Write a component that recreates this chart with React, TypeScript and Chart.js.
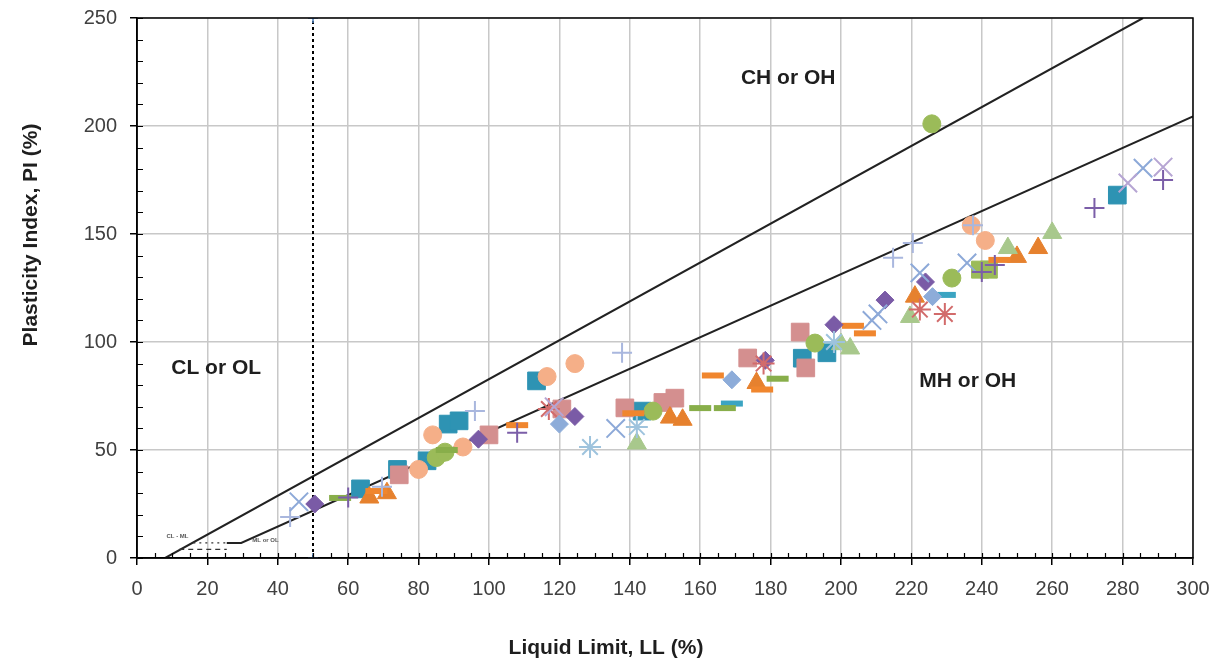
import React, { useEffect, useRef } from 'react';
import { Chart, registerables } from 'chart.js';

Chart.register(...registerables);

// ---- Axis ranges and ticks ----
const llRange = [0, 300];
const piRange = [0, 250];
const llTickStep = 20;
const piTickStep = 50;

// ---- Classification lines (LL, PI vertices) ----
const uLineLL = [8, 285.8];
const uLinePI = [0, 250];
const aLineLL = [25.5, 29.6, 300];
const aLinePI = [7, 7, 204.4];
const dividerLL = [50, 50];
const dividerPI = [0, 250];
const clmlTopLL = [16, 25.5];
const clmlTopPI = [7, 7];
const clmlBottomLL = [12, 25.5];
const clmlBottomPI = [4, 4];

// ---- Zone labels ----
const zoneLabels = ['CH or OH', 'CL or OL', 'MH or OH'];
const zoneLabelLL = [185, 22.5, 236];
const zoneLabelPI = [222, 88, 82];
const smallZoneLabels = ['CL - ML', 'ML or OL'];
const smallZoneLL = [11.5, 36.5];
const smallZonePI = [10, 8];

// ---- Sample series: liquid limit (LL) and plasticity index (PI) ----
const tealSquareLL = [63.5, 74, 82.4, 88.4, 91.5, 113.5, 143.5, 189, 196, 278.5];
const tealSquarePI = [32, 41, 45, 62, 63.5, 82, 68, 92.5, 95, 168];

const roseSquareLL = [74.5, 100, 120.7, 138.6, 149.4, 152.8, 173.5, 188.4, 190];
const roseSquarePI = [38.5, 57, 69, 69.5, 72, 74, 92.6, 104.6, 88];

const peachCircleLL = [80, 84, 92.6, 116.5, 124.4, 237, 241];
const peachCirclePI = [41, 57, 51.4, 84, 90, 154, 147];

const greenCircleLL = [85, 87.5, 146.6, 192.6, 225.8, 231.5];
const greenCirclePI = [46.5, 49, 68, 99.5, 201, 129.6];

const greenSquareLL = [239.5, 242];
const greenSquarePI = [133.5, 133.5];

const orangeTriangleLL = [66, 71, 151.4, 155, 176, 221, 250, 256];
const orangeTrianglePI = [28, 30, 65, 64, 81, 121, 139.4, 143.5];

const paleGreenTriangleLL = [142, 200, 202.6, 219.6, 247.4, 260];
const paleGreenTrianglePI = [53, 99, 97, 111.6, 143.5, 150.5];

const purpleDiamondLL = [50.5, 97, 124.4, 178.5, 198, 212.5, 224];
const purpleDiamondPI = [25, 55, 65.5, 91.5, 108, 119.4, 127.8];

const blueDiamondLL = [120, 169, 226];
const blueDiamondPI = [62, 82.5, 121];

const orangeDashLL = [68, 108, 141, 163.6, 177.6, 203.4, 206.8, 245];
const orangeDashPI = [31, 61.5, 67, 84.5, 78, 107.5, 104, 138];

const greenDashLL = [57.7, 88, 160, 167, 182];
const greenDashPI = [27.8, 50, 69.4, 69.4, 83];

const tealDashLL = [169, 229.5];
const tealDashPI = [71.5, 121.8];

const blueXLL = [46, 136, 208.8, 210.5, 222.4, 235.8, 285.8];
const blueXPI = [26, 60, 110, 113, 132, 136.6, 180.5];

const lavenderPlusLL = [43.5, 69.6, 96, 137.8, 214.8, 220.4, 237.5];
const lavenderPlusPI = [19, 33, 68, 95, 139, 145.8, 154];

const purplePlusLL = [60, 108, 240, 243.7, 272, 291.5];
const purplePlusPI = [28, 58, 132.4, 135.6, 162, 175];

const redStarLL = [117, 178, 222.4, 229.5];
const redStarPI = [69, 90, 115, 113];

const blueStarLL = [128.7, 142, 198];
const blueStarPI = [51.4, 60.6, 100];

const lavenderXLL = [118.5, 281.5, 291.5];
const lavenderXPI = [70, 173.6, 181];

const FONT = "'Liberation Sans', Arial, sans-serif";

const toPoints = (xs: number[], ys: number[]) => xs.map((x, i) => ({ x, y: ys[i] }));

type MarkerStyle = {
  pointStyle: string;
  radius: number;
  color: string;
  filled: boolean;
  width?: number;
};

const markerSeries = (label: string, xs: number[], ys: number[], s: MarkerStyle) => ({
  label,
  data: toPoints(xs, ys),
  showLine: false,
  pointStyle: s.pointStyle,
  pointRadius: s.radius,
  pointHoverRadius: s.radius,
  pointBackgroundColor: s.filled ? s.color : 'transparent',
  pointBorderColor: s.color,
  pointBorderWidth: s.width ?? 1,
});

const lineSeries = (label: string, xs: number[], ys: number[], color: string, width: number, dash: number[] = []) => ({
  label,
  data: toPoints(xs, ys),
  showLine: true,
  borderColor: color,
  borderWidth: width,
  borderDash: dash,
  pointRadius: 0,
  pointHoverRadius: 0,
  fill: false,
});

const chartDecor = {
  id: 'chartDecor',
  afterDraw(chart: any) {
    const { ctx, chartArea } = chart;
    const xs = chart.scales.x;
    const ys = chart.scales.y;
    ctx.save();

    // plot frame
    ctx.strokeStyle = '#000';
    ctx.lineWidth = 1.5;
    ctx.strokeRect(chartArea.left, chartArea.top, chartArea.right - chartArea.left, chartArea.bottom - chartArea.top);

    // inner minor ticks
    ctx.lineWidth = 1.2;
    ctx.beginPath();
    for (let v = piRange[0]; v <= piRange[1]; v += 10) {
      const py = Math.round(ys.getPixelForValue(v)) + 0.5;
      ctx.moveTo(chartArea.left, py);
      ctx.lineTo(chartArea.left + 6, py);
    }
    for (let v = llRange[0] + 5; v < llRange[1]; v += 5) {
      const px = Math.round(xs.getPixelForValue(v)) + 0.5;
      ctx.moveTo(px, chartArea.bottom);
      ctx.lineTo(px, chartArea.bottom - 5);
    }
    ctx.stroke();

    // zone labels
    ctx.fillStyle = '#1e1e1e';
    ctx.font = `bold 21px ${FONT}`;
    ctx.textAlign = 'center';
    ctx.textBaseline = 'middle';
    zoneLabels.forEach((t, i) => {
      ctx.fillText(t, xs.getPixelForValue(zoneLabelLL[i]), ys.getPixelForValue(zoneLabelPI[i]));
    });
    ctx.font = `bold 6px ${FONT}`;
    ctx.fillStyle = '#555';
    smallZoneLabels.forEach((t, i) => {
      ctx.fillText(t, xs.getPixelForValue(smallZoneLL[i]), ys.getPixelForValue(smallZonePI[i]));
    });

    // axis titles
    ctx.fillStyle = '#1e1e1e';
    ctx.font = `bold 21px ${FONT}`;
    ctx.fillText('Liquid Limit, LL (%)', 606, 648);
    ctx.translate(31, 235);
    ctx.rotate(-Math.PI / 2);
    ctx.fillText('Plasticity Index, PI (%)', 0, 0);
    ctx.restore();
  },
};

export default function App() {
  const canvasRef = useRef<HTMLCanvasElement | null>(null);

  useEffect(() => {
    const canvas = canvasRef.current;
    if (!canvas) return;

    const datasets: any[] = [
      markerSeries('Purple +', purplePlusLL, purplePlusPI, { pointStyle: 'cross', radius: 10, color: '#7B5EA8', filled: false, width: 2 }),
      markerSeries('Lavender x', lavenderXLL, lavenderXPI, { pointStyle: 'crossRot', radius: 13, color: '#B6A5D3', filled: false, width: 2 }),
      markerSeries('Blue x', blueXLL, blueXPI, { pointStyle: 'crossRot', radius: 13, color: '#8DA9D8', filled: false, width: 2 }),
      markerSeries('Lavender +', lavenderPlusLL, lavenderPlusPI, { pointStyle: 'cross', radius: 10, color: '#A9B7DE', filled: false, width: 2 }),
      markerSeries('Red star', redStarLL, redStarPI, { pointStyle: 'star', radius: 11, color: '#D26B6B', filled: false, width: 2 }),
      markerSeries('Blue star', blueStarLL, blueStarPI, { pointStyle: 'star', radius: 11, color: '#9EC3DD', filled: false, width: 2 }),
      markerSeries('Purple diamond', purpleDiamondLL, purpleDiamondPI, { pointStyle: 'rectRot', radius: 9, color: '#7A5BA6', filled: true }),
      markerSeries('Blue diamond', blueDiamondLL, blueDiamondPI, { pointStyle: 'rectRot', radius: 9, color: '#8DACD9', filled: true }),
      markerSeries('Orange dash', orangeDashLL, orangeDashPI, { pointStyle: 'line', radius: 11, color: '#F0862E', filled: true, width: 6 }),
      markerSeries('Green dash', greenDashLL, greenDashPI, { pointStyle: 'line', radius: 11, color: '#88AE4A', filled: true, width: 6 }),
      markerSeries('Teal dash', tealDashLL, tealDashPI, { pointStyle: 'line', radius: 11, color: '#3BA4C2', filled: true, width: 6 }),
      markerSeries('Pale green triangle', paleGreenTriangleLL, paleGreenTrianglePI, { pointStyle: 'triangle', radius: 11, color: '#A8C88C', filled: true }),
      markerSeries('Orange triangle', orangeTriangleLL, orangeTrianglePI, { pointStyle: 'triangle', radius: 11, color: '#E6812E', filled: true }),
      markerSeries('Green circle', greenCircleLL, greenCirclePI, { pointStyle: 'circle', radius: 9, color: '#9BBB59', filled: true }),
      markerSeries('Green square', greenSquareLL, greenSquarePI, { pointStyle: 'rect', radius: 12, color: '#9BBB59', filled: true }),
      markerSeries('Peach circle', peachCircleLL, peachCirclePI, { pointStyle: 'circle', radius: 9, color: '#F5AF88', filled: true }),
      markerSeries('Rose square', roseSquareLL, roseSquarePI, { pointStyle: 'rect', radius: 12.5, color: '#D48F8F', filled: true }),
      markerSeries('Teal square', tealSquareLL, tealSquarePI, { pointStyle: 'rect', radius: 12.5, color: '#2E93B3', filled: true }),
      {
        ...lineSeries('LL = 50', dividerLL, dividerPI, '#000', 2, [3, 3]),
        pointRadius: 5,
        pointStyle: 'cross',
        pointBorderColor: '#4A7EBB',
        pointBorderWidth: 1.5,
      },
      lineSeries('CL-ML top', clmlTopLL, clmlTopPI, '#333', 1.2, [2, 4]),
      lineSeries('CL-ML bottom', clmlBottomLL, clmlBottomPI, '#333', 1.2, [5, 4]),
      lineSeries('U-line', uLineLL, uLinePI, '#222', 2),
      lineSeries('A-line', aLineLL, aLinePI, '#222', 2),
    ];

    const chart = new Chart(canvas, {
      type: 'scatter',
      data: { datasets },
      options: {
        animation: false,
        responsive: false,
        events: [],
        layout: { padding: { top: 18, right: 28, left: 0, bottom: 0 } },
        plugins: {
          legend: { display: false },
          tooltip: { enabled: false },
        },
        scales: {
          x: {
            type: 'linear',
            min: llRange[0],
            max: llRange[1],
            ticks: {
              stepSize: llTickStep,
              autoSkip: false,
              maxRotation: 0,
              padding: 12,
              color: '#404040',
              font: { family: FONT, size: 20 },
            },
            grid: { color: '#C8C8C8', lineWidth: 1.5, tickColor: '#000', tickLength: 7, tickWidth: 1.5 },
            border: { color: '#000', width: 1.5 },
            afterFit: (s: any) => { s.height = 103; s.paddingRight = 0; s.paddingLeft = 0; },
          },
          y: {
            type: 'linear',
            min: piRange[0],
            max: piRange[1],
            ticks: {
              stepSize: piTickStep,
              padding: 13,
              color: '#404040',
              font: { family: FONT, size: 20 },
            },
            grid: { color: '#C8C8C8', lineWidth: 1.5, tickColor: '#000', tickLength: 7, tickWidth: 1.5 },
            border: { color: '#000', width: 1.5 },
            afterFit: (s: any) => { s.width = 137; s.paddingTop = 0; s.paddingBottom = 0; },
          },
        },
      },
      plugins: [chartDecor],
    } as any);

    return () => chart.destroy();
  }, []);

  return (
    <div style={{ position: 'absolute', left: 0, top: 0, width: 1221, height: 661, background: '#fff' }}>
      <canvas ref={canvasRef} width={1221} height={661} style={{ display: 'block' }} />
    </div>
  );
}
